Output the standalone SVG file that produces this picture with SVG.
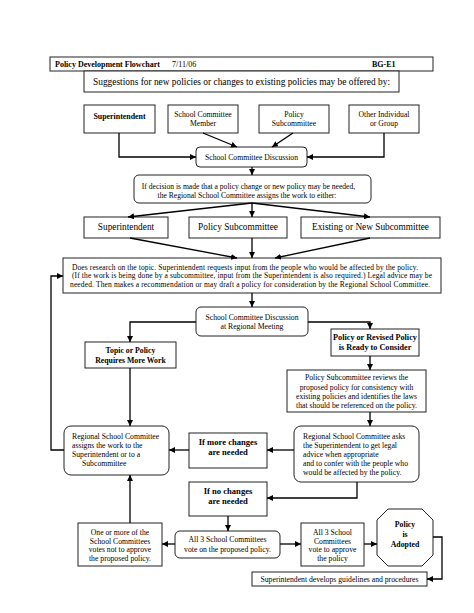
<svg xmlns="http://www.w3.org/2000/svg" width="474" height="613" viewBox="0 0 474 613">
<defs>
<marker id="ah" markerUnits="userSpaceOnUse" markerWidth="6" markerHeight="6" refX="6" refY="3" orient="auto">
<path d="M0,0 L6,3 L0,6 z" fill="#000"/>
</marker>
<style>
.b{fill:#fff;stroke:#222;stroke-width:1}
.t{font-family:"Liberation Serif","Times New Roman",serif;fill:#000;text-anchor:middle}
.l{font-family:"Liberation Serif","Times New Roman",serif;fill:#000;text-anchor:start}
.s{font-size:7.7px}
.m{font-size:9.3px}
.bd{font-weight:bold}
.c{fill:none;stroke:#000;stroke-width:1.3;marker-end:url(#ah)}
</style>
</defs>
<rect width="474" height="613" fill="#fff"/>

<g id="header">
<rect class="b" x="50" y="57" width="383" height="14"/>
<text class="l bd" x="55" y="67" font-size="8">Policy Development Flowchart</text>
<text class="l" x="172" y="67" font-size="8">7/11/06</text>
<text class="l bd" x="372" y="67" font-size="8">BG-E1</text>
</g>

<g id="suggestions">
<rect class="b" x="84" y="71" width="315" height="21"/>
<text class="t" x="241.5" y="84.5" font-size="9.4" textLength="297" lengthAdjust="spacing">Suggestions for new policies or changes to existing policies may be offered by:</text>
</g>

<g id="src-superintendent">
<rect class="b" x="84" y="105" width="71" height="28"/>
<text class="t bd" x="119.5" y="118.5" font-size="7.9">Superintendent</text>
</g>
<g id="src-member">
<rect class="b" x="168" y="105" width="70" height="28"/>
<text class="t s" x="203" y="117">School Committee</text>
<text class="t s" x="203" y="126">Member</text>
</g>
<g id="src-policy-sub">
<rect class="b" x="259" y="105" width="70" height="28"/>
<text class="t s" x="294" y="117">Policy</text>
<text class="t s" x="294" y="126">Subcommittee</text>
</g>
<g id="src-other">
<rect class="b" x="349" y="105" width="70" height="28"/>
<text class="t s" x="384" y="117">Other Individual</text>
<text class="t s" x="384" y="126">or Group</text>
</g>

<g id="discussion1">
<rect class="b" x="196" y="147" width="111" height="20" rx="4"/>
<text class="t s" x="251.5" y="160">School Committee Discussion</text>
</g>

<g id="decision">
<rect class="b" x="134" y="175" width="237" height="28" rx="5"/>
<text class="t" x="248.5" y="188.5" font-size="7.6">If decision is made that a policy change or new policy may be needed,</text>
<text class="t" x="247" y="197.5" font-size="7.6">the Regional School Committee assigns the work to either:</text>
</g>

<g id="assign-superintendent">
<rect class="b" x="84" y="217" width="84" height="21"/>
<text class="t m" x="126" y="230">Superintendent</text>
</g>
<g id="assign-policy-sub">
<rect class="b" x="189" y="217" width="98" height="21"/>
<text class="t m" x="238" y="230">Policy Subcommittee</text>
</g>
<g id="assign-existing-sub">
<rect class="b" x="301" y="217" width="139" height="21"/>
<text class="t m" x="370.5" y="230">Existing or New Subcommittee</text>
</g>

<g id="research">
<rect class="b" x="63" y="258" width="378" height="35"/>
<text class="l" x="72" y="269.5" font-size="7.5" textLength="346" lengthAdjust="spacing">Does research on the topic.  Superintendent requests input from the people who would be affected by the policy.</text>
<text class="l" x="72" y="278" font-size="7.5" textLength="360" lengthAdjust="spacing">(If the work is being done by a subcommittee, input from the Superintendent is also required.)  Legal advice may be</text>
<text class="l" x="70" y="286.5" font-size="7.5" textLength="360" lengthAdjust="spacing">needed.   Then makes a recommendation or may draft a policy for consideration by the Regional School Committee.</text>
</g>

<g id="discussion2">
<rect class="b" x="196" y="307" width="112" height="29" rx="5"/>
<text class="t s" x="252" y="320">School Committee Discussion</text>
<text class="t s" x="252" y="329">at Regional Meeting</text>
</g>

<g id="more-work">
<rect class="b" x="85" y="342" width="91" height="26"/>
<text class="t bd" x="130.5" y="353" font-size="7.8">Topic or Policy</text>
<text class="t bd" x="130.5" y="363" font-size="7.8">Requires More Work</text>
</g>

<g id="ready">
<rect class="b" x="331" y="329" width="88" height="27"/>
<text class="t bd" x="375" y="339.5" font-size="8.2">Policy or Revised Policy</text>
<text class="t bd" x="375" y="349.5" font-size="8.2">is Ready to Consider</text>
</g>

<g id="review">
<rect class="b" x="287" y="370" width="139" height="42"/>
<text class="t s" x="356.5" y="380">Policy Subcommittee reviews the</text>
<text class="t s" x="356.5" y="389.5">proposed policy for consistency with</text>
<text class="t s" x="356.5" y="398.5">existing policies and identifies the laws</text>
<text class="t s" x="356.5" y="407.5">that should be referenced on the policy.</text>
</g>

<g id="rsc-asks">
<rect class="b" x="294" y="426" width="125" height="56" rx="7"/>
<text class="l s" x="303" y="439">Regional School Committee asks</text>
<text class="l s" x="303" y="448">the Superintendent to get legal</text>
<text class="l s" x="303" y="457">advice when appropriate</text>
<text class="l s" x="303" y="466">and to confer with the people who</text>
<text class="l s" x="303" y="475">would be affected by the policy.</text>
</g>

<g id="more-changes">
<rect class="b" x="189" y="433" width="78" height="35"/>
<text class="t bd" x="228" y="445" font-size="8.6">If more changes</text>
<text class="t bd" x="228" y="455" font-size="8.6">are needed</text>
</g>

<g id="rsc-assigns">
<rect class="b" x="64" y="426" width="105" height="49" rx="7"/>
<text class="l s" x="72" y="439">Regional School Committee</text>
<text class="l s" x="72" y="448">assigns the work to the</text>
<text class="l s" x="72" y="457">Superintendent or to a</text>
<text class="l s" x="82" y="466">Subcommittee</text>
</g>

<g id="no-changes">
<rect class="b" x="189" y="482" width="78" height="34"/>
<text class="t bd" x="228" y="494" font-size="8.6">If no changes</text>
<text class="t bd" x="228" y="504" font-size="8.6">are needed</text>
</g>

<g id="vote">
<rect class="b" x="175" y="531" width="105" height="27" rx="5"/>
<text class="t s" x="227.5" y="542">All 3 School Committees</text>
<text class="t s" x="227.5" y="552">vote on the proposed policy.</text>
</g>

<g id="not-approve">
<rect class="b" x="78" y="523" width="84" height="43"/>
<text class="t s" x="120" y="535">One or more of the</text>
<text class="t s" x="120" y="543.5">School Committees</text>
<text class="t s" x="120" y="552">votes not to approve</text>
<text class="t s" x="120" y="561">the proposed policy.</text>
</g>

<g id="approve">
<rect class="b" x="301" y="523" width="63" height="43"/>
<text class="t s" x="332.5" y="535">All 3 School</text>
<text class="t s" x="332.5" y="543.5">Committees</text>
<text class="t s" x="332.5" y="552">vote to approve</text>
<text class="t s" x="332.5" y="561">the policy</text>
</g>

<g id="adopted">
<polygon class="b" points="388,509 422,509 433,520 433,555 422,566 388,566 377,555 377,520"/>
<text class="t bd" x="405" y="527" font-size="7.8">Policy</text>
<text class="t bd" x="405" y="537" font-size="7.8">is</text>
<text class="t bd" x="405" y="547" font-size="7.8">Adopted</text>
</g>

<g id="guidelines">
<rect class="b" x="252" y="572" width="175" height="14"/>
<text class="t s" x="339.5" y="582">Superintendent develops guidelines and procedures</text>
</g>

<g id="connectors">
<polyline class="c" points="119,133 119,157 196,157"/>
<polyline class="c" points="384,133 384,157 307,157"/>
<line class="c" x1="203" y1="133" x2="237" y2="147"/>
<line class="c" x1="293" y1="133" x2="272" y2="147"/>
<line class="c" x1="252" y1="167" x2="252" y2="175"/>
<line class="c" x1="252" y1="203" x2="128" y2="217"/>
<line class="c" x1="252" y1="203" x2="252" y2="217"/>
<line class="c" x1="252" y1="203" x2="370" y2="217"/>
<line class="c" x1="130" y1="238" x2="237" y2="258"/>
<line class="c" x1="252" y1="238" x2="252" y2="258"/>
<line class="c" x1="370" y1="238" x2="275" y2="258"/>
<line class="c" x1="252" y1="293" x2="252" y2="307"/>
<polyline class="c" points="196,322 130,322 130,342"/>
<polyline class="c" points="308,322 370,322 370,329"/>
<line class="c" x1="370" y1="356" x2="370" y2="370"/>
<line class="c" x1="370" y1="412" x2="370" y2="426"/>
<line class="c" x1="294" y1="450" x2="267" y2="450"/>
<line class="c" x1="189" y1="450" x2="169" y2="450"/>
<line class="c" x1="130" y1="368" x2="130" y2="426"/>
<polyline class="c" points="64,450 51,450 51,276 63,276"/>
<line class="c" x1="130" y1="523" x2="130" y2="475"/>
<polyline class="c" points="357,482 357,498 267,498"/>
<line class="c" x1="228" y1="516" x2="228" y2="531"/>
<line class="c" x1="175" y1="544" x2="162" y2="544"/>
<line class="c" x1="280" y1="544" x2="301" y2="544"/>
<line class="c" x1="364" y1="544" x2="377" y2="544"/>
<polyline class="c" points="433,537 442,537 442,579 427,579"/>
</g>
</svg>
